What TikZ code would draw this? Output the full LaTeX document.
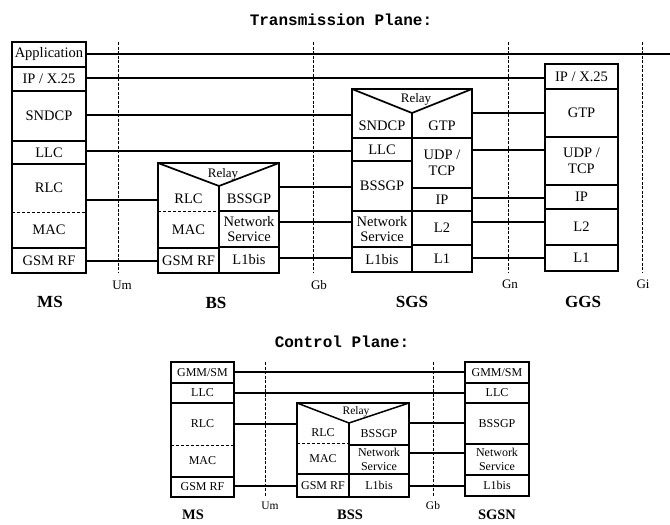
\documentclass[tikz,border=0pt]{standalone}
\usepackage{fontspec}
\setmainfont{Liberation Serif}
\newfontfamily\monob{Liberation Mono}
\newcommand{\mkcell}[7][cell]{%
  \node[#1, minimum width={(#5)-(#3)}, minimum height={(#6)-(#4)}] (#2)
    at ({((#3)+(#5))/2},{((#4)+(#6))/2}) {#7};}
\begin{document}
\begin{tikzpicture}[x=1pt,y=-1pt,
  cell/.style={draw=none, inner sep=0pt, outer sep=0pt, align=center,
    font=\fontsize{14.5}{15.5}\selectfont},
  ccell/.style={cell, font=\fontsize{12}{14}\selectfont},
  box/.style={line width=1.7pt, line join=miter},
  cbox/.style={line width=1.5pt, line join=miter},
  sep/.style={line width=1.3pt},
  dsep/.style={line width=1pt, dash pattern=on 3pt off 2pt},
  conn/.style={line width=1.1pt},
  iface/.style={line width=0.9pt, dash pattern=on 3pt off 1.5pt},
  relay/.style={inner sep=0pt, font=\fontsize{13}{14}\selectfont},
  crelay/.style={inner sep=0pt, font=\fontsize{11.5}{13}\selectfont},
  title/.style={font=\monob\bfseries\fontsize{16}{18}\selectfont},
  ent/.style={font=\bfseries\fontsize{17}{19}\selectfont},
  cent/.style={font=\bfseries\fontsize{14.5}{16}\selectfont},
  ilab/.style={font=\fontsize{13}{14}\selectfont},
  cilab/.style={font=\fontsize{11.5}{13}\selectfont}]
\useasboundingbox (0,0) rectangle (670,525);

% ---------------- Transmission plane ----------------
\node[title] (ttitle) at (341,20) {Transmission Plane:};

% MS
\mkcell{ms-app}{12}{42}{86}{67}{Application}
\mkcell{ms-ip}{12}{67}{86}{91}{IP / X.25}
\mkcell{ms-sndcp}{12}{91}{86}{141}{SNDCP}
\mkcell{ms-llc}{12}{141}{86}{164}{LLC}
\mkcell{ms-rlc}{12}{164}{86}{212}{RLC}
\mkcell{ms-mac}{12}{212}{86}{248}{MAC}
\mkcell{ms-rf}{12}{248}{86}{273}{GSM RF}
\draw[box] (ms-app.north west) rectangle (ms-rf.south east);
\foreach \c in {app,ip,sndcp,llc,mac}
  \draw[sep] (ms-\c.south west) -- (ms-\c.south east);
\draw[dsep] (ms-rlc.south west) -- (ms-rlc.south east);

% BS
\mkcell{bs-rlc}{158}{186}{219}{211}{RLC}
\mkcell{bs-mac}{158}{211}{219}{248}{MAC}
\mkcell{bs-rf}{158}{248}{219}{273}{GSM RF}
\mkcell{bs-bssgp}{219}{186}{279}{211}{BSSGP}
\mkcell{bs-ns}{219}{211}{279}{247}{Network\\Service}
\mkcell{bs-l1}{219}{247}{279}{273}{L1bis}
\node[relay] (bs-relay) at (223,174) {Relay};
\draw[box] (bs-rlc.west |- 0,163) rectangle (bs-l1.south east);
\draw[box] (bs-rlc.west |- 0,163) -- (bs-rlc.north east) -- (bs-l1.east |- 0,163);
\draw[sep] (bs-rlc.north east) -- (bs-rf.south east);
\draw[dsep] (bs-rlc.south west) -- (bs-rlc.south east);
\draw[sep] (bs-mac.south west) -- (bs-mac.south east);
\draw[sep] (bs-bssgp.south west) -- (bs-bssgp.south east);
\draw[sep] (bs-ns.south west) -- (bs-ns.south east);

% SGS
\mkcell{sgs-sndcp}{352}{113}{412}{138}{SNDCP}
\mkcell{sgs-llc}{352}{138}{412}{161}{LLC}
\mkcell{sgs-bssgp}{352}{161}{412}{211}{BSSGP}
\mkcell{sgs-ns}{352}{211}{412}{247}{Network\\Service}
\mkcell{sgs-l1bis}{352}{247}{412}{272}{L1bis}
\mkcell{sgs-gtp}{412}{113}{472}{138}{GTP}
\mkcell{sgs-udp}{412}{138}{472}{188}{UDP /\\TCP}
\mkcell{sgs-ip}{412}{188}{472}{211}{IP}
\mkcell{sgs-l2}{412}{211}{472}{245}{L2}
\mkcell{sgs-l1}{412}{245}{472}{272}{L1}
\node[relay] (sgs-relay) at (416,99) {Relay};
\draw[box] (sgs-sndcp.west |- 0,89) rectangle (sgs-l1.south east);
\draw[box] (sgs-sndcp.west |- 0,89) -- (sgs-sndcp.north east) -- (sgs-gtp.east |- 0,89);
\draw[sep] (sgs-sndcp.north east) -- (sgs-l1bis.south east);
\foreach \c in {sndcp,llc,bssgp,ns,gtp,udp,ip,l2}
  \draw[sep] (sgs-\c.south west) -- (sgs-\c.south east);

% GGS
\mkcell{ggs-ip}{545}{64}{618}{89}{IP / X.25}
\mkcell{ggs-gtp}{545}{89}{618}{137}{GTP}
\mkcell{ggs-udp}{545}{137}{618}{185}{UDP /\\TCP}
\mkcell{ggs-ip2}{545}{185}{618}{209}{IP}
\mkcell{ggs-l2}{545}{209}{618}{245}{L2}
\mkcell{ggs-l1}{545}{245}{618}{271}{L1}
\draw[box] (ggs-ip.north west) rectangle (ggs-l1.south east);
\foreach \c in {ip,gtp,udp,ip2,l2}
  \draw[sep] (ggs-\c.south west) -- (ggs-\c.south east);

% connectors
\coordinate (append) at (670,54);
\draw[conn] (ms-app.east |- 0,54) -- (append);
\draw[conn] (ms-ip.east |- 0,78) -- (ggs-ip.west |- 0,78);
\draw[conn] (ms-sndcp.east |- 0,115) -- (sgs-sndcp.west |- 0,115);
\draw[conn] (ms-llc.east |- 0,151) -- (sgs-llc.west |- 0,151);
\draw[conn] (ms-rlc.east |- 0,200) -- (bs-rlc.west |- 0,200);
\draw[conn] (ms-rf.east |- 0,261) -- (bs-rf.west |- 0,261);
\draw[conn] (bs-bssgp.east |- 0,187) -- (sgs-bssgp.west |- 0,187);
\draw[conn] (bs-ns.east |- 0,222) -- (sgs-ns.west |- 0,222);
\draw[conn] (bs-l1.east |- 0,258) -- (sgs-l1bis.west |- 0,258);
\draw[conn] (sgs-gtp.east |- 0,113) -- (ggs-gtp.west |- 0,113);
\draw[conn] (sgs-udp.east |- 0,150) -- (ggs-udp.west |- 0,150);
\draw[conn] (sgs-ip.east |- 0,198) -- (ggs-ip2.west |- 0,198);
\draw[conn] (sgs-l2.east |- 0,222) -- (ggs-l2.west |- 0,222);
\draw[conn] (sgs-l1.east |- 0,258) -- (ggs-l1.west |- 0,258);

% interfaces
\draw[iface] (118,42) -- (118,272);
\draw[iface] (313,42) -- (313,272);
\draw[iface] (508,42) -- (508,272);
\draw[iface] (642,42) -- (642,272);
\node[ilab] (um1) at (122,285) {Um};
\node[ilab] (gb1) at (319,285) {Gb};
\node[ilab] (gn1) at (510,284) {Gn};
\node[ilab] (gi1) at (643,284) {Gi};

\node[ent] (l-ms) at (50,302) {MS};
\node[ent] (l-bs) at (216,303) {BS};
\node[ent] (l-sgs) at (412,302) {SGS};
\node[ent] (l-ggs) at (583,302) {GGS};

% ---------------- Control plane ----------------
\node[title] (ctitle) at (342,342) {Control Plane:};

% MS
\mkcell[ccell]{cms-gmm}{171}{362}{234}{383}{GMM/SM}
\mkcell[ccell]{cms-llc}{171}{383}{234}{403}{LLC}
\mkcell[ccell]{cms-rlc}{171}{403}{234}{445}{RLC}
\mkcell[ccell]{cms-mac}{171}{445}{234}{477}{MAC}
\mkcell[ccell]{cms-rf}{171}{477}{234}{497}{GSM RF}
\draw[cbox] (cms-gmm.north west) rectangle (cms-rf.south east);
\foreach \c in {gmm,llc,mac}
  \draw[sep] (cms-\c.south west) -- (cms-\c.south east);
\draw[dsep] (cms-rlc.south west) -- (cms-rlc.south east);

% BSS
\mkcell[ccell]{bss-rlc}{297}{423}{349}{443}{RLC}
\mkcell[ccell]{bss-mac}{297}{443}{349}{474}{MAC}
\mkcell[ccell]{bss-rf}{297}{474}{349}{497}{GSM RF}
\mkcell[ccell]{bss-bssgp}{349}{423}{409}{445}{BSSGP}
\mkcell[ccell]{bss-ns}{349}{445}{409}{474}{Network\\Service}
\mkcell[ccell]{bss-l1}{349}{474}{409}{497}{L1bis}
\node[crelay] (bss-relay) at (356,412) {Relay};
\draw[cbox] (bss-rlc.west |- 0,403) rectangle (bss-l1.south east);
\draw[cbox] (bss-rlc.west |- 0,403) -- (bss-rlc.north east) -- (bss-l1.east |- 0,403);
\draw[sep] (bss-rlc.north east) -- (bss-rf.south east);
\draw[dsep] (bss-rlc.south west) -- (bss-rlc.south east);
\draw[sep] (bss-mac.south west) -- (bss-mac.south east);
\draw[sep] (bss-bssgp.south west) -- (bss-bssgp.south east);
\draw[sep] (bss-ns.south west) -- (bss-ns.south east);

% SGSN
\mkcell[ccell]{sgsn-gmm}{465}{362}{529}{383}{GMM/SM}
\mkcell[ccell]{sgsn-llc}{465}{383}{529}{403}{LLC}
\mkcell[ccell]{sgsn-bssgp}{465}{403}{529}{444}{BSSGP}
\mkcell[ccell]{sgsn-ns}{465}{444}{529}{475}{Network\\Service}
\mkcell[ccell]{sgsn-l1}{465}{475}{529}{496}{L1bis}
\draw[cbox] (sgsn-gmm.north west) rectangle (sgsn-l1.south east);
\foreach \c in {gmm,llc,bssgp,ns}
  \draw[sep] (sgsn-\c.south west) -- (sgsn-\c.south east);

% connectors
\draw[conn] (cms-gmm.east |- 0,372) -- (sgsn-gmm.west |- 0,372);
\draw[conn] (cms-llc.east |- 0,393) -- (sgsn-llc.west |- 0,393);
\draw[conn] (cms-rlc.east |- 0,424) -- (bss-rlc.west |- 0,424);
\draw[conn] (cms-rf.east |- 0,486) -- (bss-rf.west |- 0,486);
\draw[conn] (bss-bssgp.east |- 0,423) -- (sgsn-bssgp.west |- 0,423);
\draw[conn] (bss-ns.east |- 0,453) -- (sgsn-ns.west |- 0,453);
\draw[conn] (bss-l1.east |- 0,486) -- (sgsn-l1.west |- 0,486);

% interfaces
\draw[iface] (265,362) -- (265,497);
\draw[iface] (433,362) -- (433,497);
\node[cilab] (um2) at (270,506) {Um};
\node[cilab] (gb2) at (433,506) {Gb};

\node[cent] (l-cms) at (193,515) {MS};
\node[cent] (l-bss) at (350,515) {BSS};
\node[cent] (l-sgsn) at (497,515) {SGSN};
\end{tikzpicture}
\end{document}
